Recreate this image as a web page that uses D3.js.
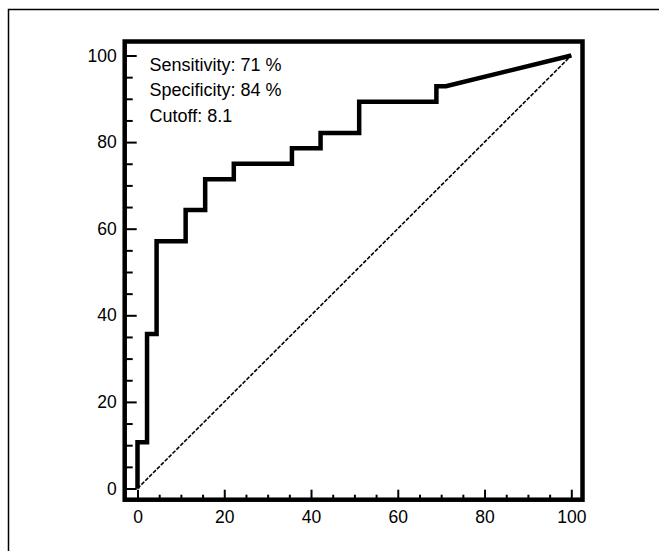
<!DOCTYPE html>
<html>
<head>
<meta charset="utf-8">
<title>roc_curve</title>
<script src="https://d3js.org/d3.v7.min.js"></script>
<style>
  body { margin: 0; background: #fff; }
  text { font-family: "Liberation Sans", Arial, sans-serif; fill: #000; }
</style>
</head>
<body>
<svg width="659" height="551"></svg>
<script>
// ROC curve vertices: 1 - specificity (%) and sensitivity (%)
var fpr  = [0, 0, 2.2, 2.2, 4.4, 4.4, 11.1, 11.1, 15.6, 15.6, 22.2, 22.2, 35.6, 35.6, 42.2, 42.2, 51.1, 51.1, 68.9, 68.9, 71.1, 100];
var sens = [0, 10.7, 10.7, 35.7, 35.7, 57.1, 57.1, 64.3, 64.3, 71.4, 71.4, 75.0, 75.0, 78.6, 78.6, 82.1, 82.1, 89.3, 89.3, 92.9, 92.9, 100];

var majorTicks = [0, 20, 40, 60, 80, 100];
var minorTicks = [5, 10, 15, 25, 30, 35, 45, 50, 55, 65, 70, 75, 85, 90, 95];

var infoLines = ["Sensitivity: 71 %", "Specificity: 84 %", "Cutoff: 8.1"];

var svg = d3.select("svg");

// outer frame (runs off the right and bottom edges)
svg.append("rect")
    .attr("x", 8.5).attr("y", 9.5)
    .attr("width", 700).attr("height", 600)
    .attr("fill", "none")
    .attr("stroke", "#000")
    .attr("stroke-width", 1.5);

var x = d3.scaleLinear().domain([0, 100]).range([137.5, 571.3]);
var y = d3.scaleLinear().domain([0, 100]).range([488.5, 55.5]);

// plot box edges
var boxL = 124.7, boxR = 582.5, boxT = 41.5, boxB = 499.7;

// axes with inward ticks
function styleAxis(g) {
    g.select(".domain").remove();
    g.selectAll("line").attr("stroke", "#000").attr("stroke-width", 2);
    g.selectAll("text").style("font-size", "17.5px").attr("fill", "#000")
        .style("font-family", "Liberation Sans, Arial, sans-serif");
}

svg.append("g")
    .attr("transform", "translate(0," + boxB + ")")
    .call(d3.axisBottom(x).tickValues(minorTicks).tickSize(-5).tickFormat(""))
    .call(styleAxis);
svg.append("g")
    .attr("transform", "translate(0," + boxB + ")")
    .call(d3.axisBottom(x).tickValues(majorTicks).tickSize(-10).tickPadding(11))
    .call(styleAxis);

svg.append("g")
    .attr("transform", "translate(" + boxL + ",0)")
    .call(d3.axisLeft(y).tickValues(minorTicks).tickSize(-8).tickFormat(""))
    .call(styleAxis);
svg.append("g")
    .attr("transform", "translate(" + boxL + ",0)")
    .call(d3.axisLeft(y).tickValues(majorTicks).tickSize(-12).tickPadding(8))
    .call(styleAxis);

// plot frame
svg.append("rect")
    .attr("x", boxL).attr("y", boxT)
    .attr("width", boxR - boxL).attr("height", boxB - boxT)
    .attr("fill", "none")
    .attr("stroke", "#000")
    .attr("stroke-width", 4.5);

// reference diagonal
svg.append("line")
    .attr("x1", x(0)).attr("y1", y(0))
    .attr("x2", x(100)).attr("y2", y(100))
    .attr("stroke", "#000")
    .attr("stroke-width", 1.6)
    .attr("stroke-dasharray", "4,1.5");

// ROC curve
var pts = fpr.map(function(d, i) { return [d, sens[i]]; });
svg.append("path")
    .datum(pts)
    .attr("fill", "none")
    .attr("stroke", "#000")
    .attr("stroke-width", 4.5)
    .attr("stroke-linejoin", "miter")
    .attr("d", d3.line().x(function(d) { return x(d[0]); }).y(function(d) { return y(d[1]); }));

// annotation text
svg.selectAll(".info")
    .data(infoLines)
    .enter()
    .append("text")
    .attr("class", "info")
    .attr("x", 149.5)
    .attr("y", function(d, i) { return 70.7 + i * 25.5; })
    .style("font-size", "18px")
    .text(function(d) { return d; });
</script>
</body>
</html>
